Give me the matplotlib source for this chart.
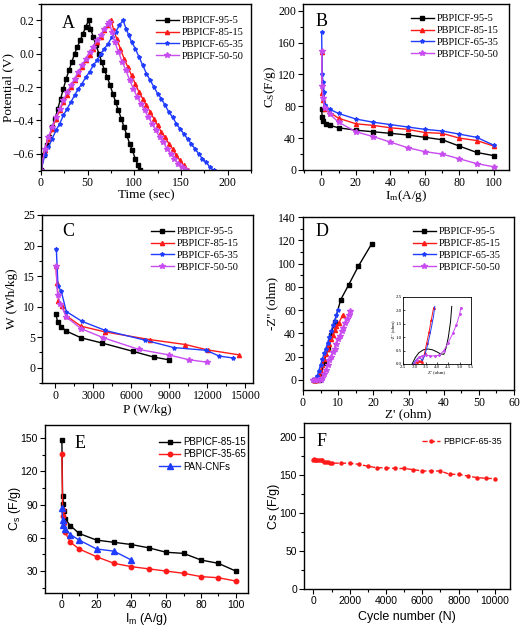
import matplotlib
matplotlib.use("Agg")
import matplotlib.pyplot as plt
from matplotlib.ticker import MultipleLocator, AutoMinorLocator

W, H = 520, 630
SERIF = "Liberation Serif"
SANS = "Liberation Sans"
plt.rcParams["font.family"] = SERIF
plt.rcParams["mathtext.default"] = "regular"

BLACK = "#000000"
RED = "#ff1a1a"
BLUE = "#1f3cff"
VIOLET = "#c84cf0"

series_names = ["PBPICF-95-5", "PBPICF-85-15", "PBPICF-65-35", "PBPICF-50-50"]

# ---------------- Panel A: charge/discharge ----------------
a_t_95 = [0, 3, 6, 9, 12, 15, 18, 21, 24, 27, 30, 33, 36, 39, 42, 45, 48, 51,
          53, 56, 59, 62, 65, 68, 71, 74, 77, 80, 83, 86, 89, 92, 95, 98, 101, 104, 106]
a_v_95 = [-0.70, -0.61, -0.55, -0.50, -0.44, -0.39, -0.33, -0.27, -0.21, -0.15, -0.10, -0.05, 0.0, 0.04, 0.08, 0.12, 0.16, 0.20,
          0.15, 0.10, 0.05, 0.0, -0.05, -0.10, -0.14, -0.19, -0.24, -0.29, -0.34, -0.39, -0.44, -0.49, -0.54, -0.58, -0.63, -0.67, -0.70]
a_t_85 = [0, 4, 8, 12, 16, 20, 24, 28, 32, 36, 40, 44, 48, 52, 56, 60, 64, 68, 72, 75,
          78, 81, 85, 89, 93, 97, 101, 105, 109, 113, 117, 121, 125, 129, 133, 137, 141, 145, 149, 153, 157]
a_v_85 = [-0.70, -0.58, -0.51, -0.45, -0.39, -0.34, -0.29, -0.25, -0.20, -0.16, -0.12, -0.08, -0.04, -0.01, 0.03, 0.07, 0.10, 0.14, 0.17, 0.20,
          0.14, 0.09, 0.03, -0.03, -0.08, -0.13, -0.18, -0.23, -0.27, -0.31, -0.35, -0.39, -0.43, -0.47, -0.50, -0.54, -0.57, -0.61, -0.64, -0.67, -0.70]
a_t_65 = [0, 4, 8, 12, 16, 20, 24, 28, 32, 36, 40, 44, 48, 52, 56, 60, 64, 68, 72, 76, 80, 84, 88,
          91, 94, 97, 101, 105, 109, 113, 117, 121, 125, 129, 133, 137, 141, 145, 149, 153, 157, 161, 165, 169, 173, 177, 181, 185]
a_v_65 = [-0.70, -0.61, -0.56, -0.51, -0.46, -0.42, -0.37, -0.33, -0.29, -0.25, -0.21, -0.18, -0.14, -0.11, -0.07, -0.04, 0.00, 0.03, 0.06, 0.10, 0.13, 0.17, 0.20,
          0.15, 0.11, 0.07, 0.03, -0.02, -0.07, -0.12, -0.16, -0.20, -0.24, -0.27, -0.31, -0.35, -0.38, -0.42, -0.45, -0.48, -0.51, -0.54, -0.57, -0.60, -0.63, -0.65, -0.68, -0.70]
a_t_50 = [0, 4, 8, 12, 16, 20, 24, 28, 32, 36, 40, 44, 48, 52, 56, 60, 64, 68, 72, 73,
          76, 79, 83, 87, 91, 95, 99, 103, 107, 111, 115, 119, 123, 127, 131, 135, 139, 143, 147, 151, 155]
a_v_50 = [-0.70, -0.57, -0.50, -0.44, -0.38, -0.33, -0.28, -0.23, -0.19, -0.15, -0.11, -0.07, -0.03, 0.01, 0.04, 0.08, 0.11, 0.15, 0.18, 0.19,
          0.13, 0.07, 0.01, -0.05, -0.10, -0.16, -0.21, -0.26, -0.30, -0.34, -0.38, -0.42, -0.46, -0.50, -0.53, -0.57, -0.60, -0.63, -0.66, -0.68, -0.70]

# ---------------- Panel B: Cs vs Im ----------------
b_i_95 = [0.2, 0.5, 1, 3, 5, 10, 20, 30, 40, 50, 60, 70, 80, 90, 100]
b_c_95 = [77, 67, 61, 58, 56, 53, 50, 48, 46, 44, 41, 38, 30, 22, 18]
b_i_85 = [0.2, 0.5, 1, 2, 5, 10, 20, 30, 40, 50, 60, 70, 80, 90, 100]
b_c_85 = [148, 97, 88, 77, 72, 65, 58, 56, 53, 51, 47, 46, 40, 37, 30]
b_i_65 = [0.2, 0.5, 1, 1.5, 2, 5, 10, 20, 30, 40, 50, 60, 70, 80, 90, 100]
b_c_65 = [173, 120, 110, 98, 82, 76, 71, 64, 60, 57, 54, 51, 49, 45, 41, 31]
b_i_50 = [0.2, 0.5, 1, 2, 5, 10, 20, 30, 40, 50, 60, 70, 80, 90, 100]
b_c_50 = [150, 105, 90, 78, 70, 60, 48, 42, 35, 28, 23, 20, 14, 8, 4]

# ---------------- Panel C: Ragone ----------------
c_p_95 = [50, 180, 470, 870, 2030, 3680, 6100, 7760, 8950]
c_w_95 = [8.75, 7.5, 6.7, 6.0, 4.9, 4.05, 2.7, 1.75, 1.3]
c_p_85 = [50, 130, 250, 500, 870, 2030, 3950, 7470, 10260, 12050, 14530]
c_w_85 = [16.7, 13.9, 10.9, 10.1, 8.5, 6.8, 5.85, 4.6, 3.8, 2.9, 2.1]
c_p_65 = [80, 210, 470, 870, 2100, 3950, 7100, 9340, 11900, 12950, 14000]
c_w_65 = [19.5, 13.4, 12.5, 9.2, 7.6, 6.1, 4.5, 3.3, 2.85, 1.9, 1.6]
c_p_50 = [50, 180, 400, 870, 2030, 3800, 6580, 8950, 10550, 12000]
c_w_50 = [16.7, 11.9, 10.5, 8.3, 6.4, 4.9, 3.0, 2.1, 1.3, 0.9]

# ---------------- Panel D: Nyquist ----------------
d_z_95 = [3.0, 3.5, 4.0, 4.5, 5.0, 6.0, 7.0, 8.0, 9.0, 10.7, 13.0, 15.7, 19.5]
d_y_95 = [0, 0.4, 0.5, 0.4, 3, 15, 27, 39, 50, 68.8, 81.8, 97.5, 116.8]
d_z_85 = [3.0, 3.4, 3.8, 4.5, 5.0, 5.5, 6.0, 6.5, 7.0, 7.5, 8.0, 8.5, 9.0, 9.5, 10.2, 11.3]
d_y_85 = [0, 0.3, 0.2, 4, 8, 13, 18, 22, 27, 31, 35, 39, 43, 46, 49, 56]
d_z_65 = [3.0, 3.3, 3.6, 4.0, 4.5, 5.0, 5.5, 6.0, 6.5, 7.0, 7.5, 8.0, 8.5, 9.0, 9.5, 10.0]
d_y_65 = [0, 0.3, 0.5, 3, 8, 13, 18, 23, 27, 32, 37, 42, 47, 51, 56, 60]
d_z_50 = [2.8, 3.5, 4.2, 5.0, 5.5, 6.0, 6.5, 7.0, 7.5, 8.0, 8.5, 9.0, 9.5, 10.0, 10.5, 11.0, 11.5, 12.0, 12.5, 13.0, 13.5]
d_y_50 = [0, 0.3, 0.3, 0.4, 2, 5, 9, 13, 17, 20, 24, 27, 31, 35, 38, 42, 45, 49, 52, 56, 59]

# inset (high-frequency region)
di_z_95 = [2.9, 3.05, 3.2, 3.4, 3.6, 3.8, 4.0, 4.15, 4.3, 4.4, 4.5, 4.6, 4.65]
di_y_95 = [0.0, 0.25, 0.42, 0.53, 0.56, 0.53, 0.45, 0.38, 0.36, 0.6, 1.0, 1.6, 2.15]
di_z_85 = [3.0, 3.1, 3.2, 3.3, 3.35, 3.45, 3.55, 3.65, 3.75, 3.85]
di_y_85 = [0.0, 0.08, 0.1, 0.1, 0.08, 0.4, 0.8, 1.2, 1.65, 2.1]
di_z_65 = [2.95, 3.05, 3.15, 3.25, 3.35, 3.45, 3.55, 3.65, 3.75, 3.85, 3.9]
di_y_65 = [0.0, 0.12, 0.22, 0.25, 0.12, 0.3, 0.6, 0.95, 1.35, 1.8, 2.15]
di_z_50 = [3.0, 3.1, 3.2, 3.35, 3.5, 3.7, 3.9, 4.1, 4.3, 4.5, 4.7, 4.85, 5.0, 5.05]
di_y_50 = [0.0, 0.15, 0.25, 0.3, 0.32, 0.31, 0.3, 0.33, 0.5, 0.8, 1.15, 1.45, 1.85, 2.1]

# ---------------- Panel E ----------------
e_names = ["PBPICF-85-15", "PBPICF-35-65", "PAN-CNFs"]
e_i_85 = [0.1, 0.5, 1, 1.5, 2, 5, 10, 20, 30, 40, 50, 60, 70, 80, 90, 100]
e_c_85 = [148, 98, 91, 84, 77, 71, 64, 58, 56, 54, 51, 47, 46, 40, 37, 30]
e_i_35 = [0.1, 0.5, 1, 1.5, 2, 5, 10, 20, 30, 40, 50, 60, 70, 80, 90, 100]
e_c_35 = [136, 85, 80, 73, 65, 56, 50, 43, 37, 34, 32, 30, 28, 25, 24, 21]
e_i_pan = [0.1, 0.5, 1, 2, 5, 10, 20, 30, 40]
e_c_pan = [87, 76, 72, 68, 63, 58, 50, 48, 40]

# ---------------- Panel F ----------------
f_name = "PBPICF-65-35"
f_n = [0, 50, 100, 150, 200, 300, 400, 500, 600, 700, 800, 900, 1000, 1500, 2000, 2500, 3000, 3500,
       4000, 4500, 5000, 5500, 6000, 6500, 7000, 7500, 8000, 8500, 9000, 9500, 10000]
f_c = [170, 171, 170, 170, 170, 170, 170, 170, 167, 167, 167, 166, 166, 166, 166, 164.5, 162, 160,
       160, 159, 159, 157.5, 155.7, 155.7, 155.7, 151.3, 151.3, 149, 147, 146, 145.6]

# ====================================================
fig = plt.figure(figsize=(W / 100, H / 100), dpi=100)


def add_ax(l, t, r, b):
    a = fig.add_axes([l / W, 1 - b / H, (r - l) / W, (b - t) / H])
    a._px = (l, t, r, b)
    return a


def style(ax, fam, size=8.5):
    for s in ax.spines.values():
        s.set_linewidth(1.0)
    ax.tick_params(which="both", direction="out", width=0.8, labelsize=size, pad=1.5)
    ax.tick_params(which="major", length=3.5)
    ax.tick_params(which="minor", length=2)
    ax.xaxis.set_minor_locator(AutoMinorLocator(2))
    ax.yaxis.set_minor_locator(AutoMinorLocator(2))
    for lab in ax.get_xticklabels() + ax.get_yticklabels():
        lab.set_family(fam)


def labels(ax, xl, yl, fam, size, xoff, yoff):
    l, t, r, b = ax._px
    ax.set_xlabel(xl, fontsize=size, family=fam)
    ax.set_ylabel(yl, fontsize=size, family=fam)
    ax.xaxis.set_label_coords(0.5, -xoff / (b - t))
    ax.yaxis.set_label_coords(-yoff / (r - l), 0.5)
    ax.xaxis.label.set_va("center")
    ax.yaxis.label.set_va("center")


def legend(ax, x, y, fam, size=7.5, spacing=0.25, hl=2.2):
    leg = ax.legend(loc="upper left", bbox_to_anchor=(x / W, 1 - y / H),
                    bbox_transform=fig.transFigure, frameon=False,
                    prop={"family": fam, "size": size}, handlelength=hl,
                    handletextpad=0.3, labelspacing=spacing, borderpad=0, borderaxespad=0)
    return leg


def letter(x, y, s):
    fig.text(x / W, 1 - y / H, s, family=SERIF, fontsize=13, ha="center", va="center")


lw = 1.0
MS = dict(s=2.2, t=3.0, b=3.0, v=4.0)
# ----- A -----
ax = add_ax(41, 3.5, 251, 170.5)
ax.plot(a_t_95, a_v_95, color=BLACK, marker="s", ms=MS["s"], lw=lw, label=series_names[0])
ax.plot(a_t_85, a_v_85, color=RED, marker="^", ms=MS["t"], lw=lw, label=series_names[1])
ax.plot(a_t_65, a_v_65, color=BLUE, marker="*", ms=MS["b"], lw=lw, label=series_names[2])
ax.plot(a_t_50, a_v_50, color=VIOLET, marker="*", ms=MS["v"], lw=lw, label=series_names[3])
ax.set_xlim(0, 225)
ax.set_ylim(-0.7, 0.3)
ax.xaxis.set_major_locator(MultipleLocator(50))
ax.yaxis.set_major_locator(MultipleLocator(0.2))
style(ax, SERIF)
labels(ax, "Time (sec)", "Potential (V)", SERIF, 9.5, 25, 33)
legend(ax, 156, 16, SERIF)
letter(68, 23, "A")

# ----- B -----
ax = add_ax(303, 3.5, 509, 170)
ax.plot(b_i_95, b_c_95, color=BLACK, marker="s", ms=MS["s"], lw=lw, label=series_names[0])
ax.plot(b_i_85, b_c_85, color=RED, marker="^", ms=MS["t"], lw=lw, label=series_names[1])
ax.plot(b_i_65, b_c_65, color=BLUE, marker="*", ms=MS["b"], lw=lw, label=series_names[2])
ax.plot(b_i_50, b_c_50, color=VIOLET, marker="*", ms=MS["v"], lw=lw, label=series_names[3])
ax.set_xlim(-10.6, 108.7)
ax.set_ylim(0, 209)
ax.xaxis.set_major_locator(MultipleLocator(20))
ax.yaxis.set_major_locator(MultipleLocator(40))
style(ax, SERIF)
labels(ax, r"I$_\mathregular{m}$(A/g)", r"C$_\mathregular{S}$(F/g)", SERIF, 9.5, 26, 33)
legend(ax, 411, 14, SERIF)
letter(322, 21, "B")

# ----- C -----
ax = add_ax(42, 215, 253, 383)
ax.plot(c_p_95, c_w_95, color=BLACK, marker="s", ms=MS["s"], lw=lw, label=series_names[0])
ax.plot(c_p_85, c_w_85, color=RED, marker="^", ms=MS["t"], lw=lw, label=series_names[1])
ax.plot(c_p_65, c_w_65, color=BLUE, marker="*", ms=MS["b"], lw=lw, label=series_names[2])
ax.plot(c_p_50, c_w_50, color=VIOLET, marker="*", ms=MS["v"], lw=lw, label=series_names[3])
ax.set_xlim(-1050, 15600)
ax.set_ylim(-2.5, 25)
ax.xaxis.set_major_locator(MultipleLocator(3000))
ax.yaxis.set_major_locator(MultipleLocator(5))
style(ax, SERIF)
labels(ax, "P (W/kg)", "W (Wh/kg)", SERIF, 9.5, 27, 30)
legend(ax, 151, 227, SERIF)
letter(68, 232, "C")

# ----- D -----
ax = add_ax(303, 217, 514, 390)
ax.plot(d_z_95, d_y_95, color=BLACK, marker="s", ms=MS["s"], lw=lw, label=series_names[0])
ax.plot(d_z_85, d_y_85, color=RED, marker="^", ms=MS["t"], lw=lw, label=series_names[1])
ax.plot(d_z_65, d_y_65, color=BLUE, marker="*", ms=MS["b"], lw=lw, label=series_names[2])
ax.plot(d_z_50, d_y_50, color=VIOLET, marker="*", ms=MS["v"], lw=lw, label=series_names[3])
ax.set_xlim(0, 60)
ax.set_ylim(-8.6, 140)
ax.xaxis.set_major_locator(MultipleLocator(10))
ax.yaxis.set_major_locator(MultipleLocator(20))
style(ax, SERIF)
labels(ax, "Z' (ohm)", "-Z'' (ohm)", SERIF, 9.5, 24, 31)
legend(ax, 413, 227, SERIF)
letter(322, 232, "D")

axi = add_ax(403, 297, 471, 364)
axi.plot(di_z_95, di_y_95, color=BLACK, lw=0.7)
axi.plot(di_z_85, di_y_85, color=RED, lw=0.7, marker="^", ms=1.2)
axi.plot(di_z_65, di_y_65, color=BLUE, lw=0.7)
axi.plot(di_z_50, di_y_50, color=VIOLET, lw=0.7, marker="*", ms=1.5)
axi.set_xlim(2.5, 5.5)
axi.set_ylim(0, 2.5)
axi.xaxis.set_major_locator(MultipleLocator(0.5))
axi.yaxis.set_major_locator(MultipleLocator(0.5))
for s in axi.spines.values():
    s.set_linewidth(0.6)
axi.tick_params(direction="in", length=1.2, width=0.5, labelsize=3.5, pad=1)
axi.set_xlabel("Z' (ohm)", fontsize=3.5, labelpad=0.5)
axi.set_ylabel("-Z'' (ohm)", fontsize=3.5, labelpad=0.5)

# ----- E -----
ax = add_ax(45, 425, 248, 593)
ax.plot(e_i_85, e_c_85, color=BLACK, marker="s", ms=3.2, lw=lw, label=e_names[0])
ax.plot(e_i_35, e_c_35, color=RED, marker="o", ms=3.2, lw=lw, label=e_names[1])
ax.plot(e_i_pan, e_c_pan, color=BLUE, marker="^", ms=3.8, lw=lw, label=e_names[2])
ax.set_xlim(-9.6, 107)
ax.set_ylim(10.2, 162)
ax.xaxis.set_major_locator(MultipleLocator(20))
ax.yaxis.set_major_locator(MultipleLocator(30))
style(ax, SANS, size=7.5)
labels(ax, r"I$_\mathregular{m}$ (A/g)", r"C$_\mathregular{s}$ (F/g)", SANS, 9, 26, 30)
legend(ax, 159, 437, SANS, size=7)
letter(80, 443, "E")

# ----- F -----
ax = add_ax(304, 423, 510, 589)
ax.plot(f_n, f_c, color=RED, marker="o", ms=2.2, lw=lw, ls="--", label=f_name)
ax.set_xlim(-514, 10826)
ax.set_ylim(0, 219)
ax.xaxis.set_major_locator(MultipleLocator(2000))
ax.yaxis.set_major_locator(MultipleLocator(50))
style(ax, SANS, size=7.5)
labels(ax, "Cycle number (N)", "Cs (F/g)", SANS, 9, 28, 30)
legend(ax, 422, 437, SANS, size=6.5, hl=2.0)
letter(322, 442, "F")

fig.savefig("out.png", dpi=100)
